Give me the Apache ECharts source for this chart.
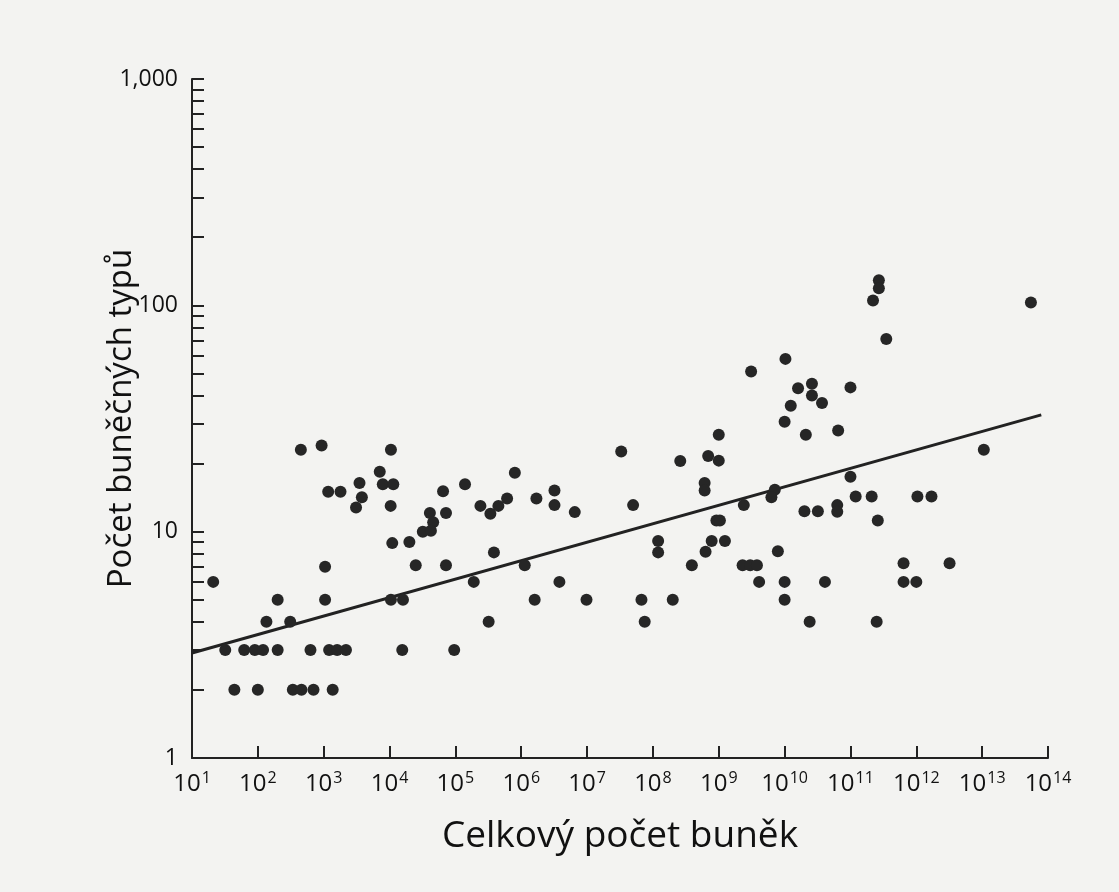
<!DOCTYPE html>
<html>
<head>
    <meta charset="utf-8">
    <title>Počet buněčných typů</title>
    <script src="https://cdn.jsdelivr.net/npm/echarts@6/dist/echarts.min.js"></script>
    <style>
        html, body { margin: 0; padding: 0; background: #f3f3f1; }
        #chart { width: 1119px; height: 892px; }
    </style>
</head>
<body>
    <div id="chart"></div>
    <script>
        // celkový počet buněk (x) a počet buněčných typů (y)
        var cellCount = [
            21, 32, 44, 62, 90, 120, 100, 135, 200, 200,
            310, 340, 460, 700, 630, 450, 930, 1050, 1050, 1370,
            1210, 1600, 2180, 1170, 1800, 1.05e4, 7.1e3, 7.9e3, 1.14e4, 3.5e3,
            3.8e3, 3.1e3, 1.04e4, 1.1e4, 2.0e4, 2.5e4, 1.05e4, 1.6e4, 1.56e4, 9.6e4,
            6.5e4, 1.4e5, 4.1e4, 7.2e4, 4.6e4, 3.2e4, 4.25e4, 7.2e4, 1.9e5, 3.2e5,
            2.4e5, 3.4e5, 4.5e5, 6.1e5, 8.0e5, 3.85e5, 1.7e6, 3.2e6, 3.2e6, 6.5e6,
            3.3e7, 5.0e7, 2.6e8, 6.9e8, 1.0e9, 1.0e9, 6.1e8, 6.1e8, 2.4e9, 7.1e9,
            6.3e9, 1.0e10, 2.1e10, 2.0e10, 3.2e10, 1.13e6, 3.8e6, 1.6e6, 9.8e6, 6.7e7,
            7.5e7, 2.0e8, 1.2e8, 1.2e8, 3.9e8, 6.3e8, 7.8e8, 1.24e9, 9.2e8, 1.04e9,
            2.3e9, 3.0e9, 3.8e9, 4.1e9, 7.9e9, 1.0e10, 1.0e10, 2.4e10, 4.1e10, 2.7e11,
            2.7e11, 2.2e11, 5.5e13, 3.5e11, 1.03e10, 1.6e10, 2.6e10, 2.6e10, 3.7e10, 1.0e11,
            1.24e10, 6.5e10, 1.06e13, 1.0e11, 1.2e11, 2.1e11, 1.04e12, 1.7e12, 6.3e10, 6.3e10,
            2.6e11, 2.5e11, 6.4e11, 6.4e11, 1.0e12, 3.2e12, 3.1e9
        ];
        var cellTypes = [
            6, 3, 2, 3, 3, 3, 2, 4, 3, 5,
            4, 2, 2, 2, 3, 23, 24, 7, 5, 2,
            3, 3, 3, 15, 15, 23, 18.4, 16.2, 16.2, 16.4,
            14.2, 12.8, 13, 8.9, 9, 7.1, 5, 5, 3, 3,
            15.1, 16.2, 12.1, 12.1, 11, 10, 10.1, 7.1, 6, 4,
            13, 12, 13, 14, 18.2, 8.1, 14, 15.2, 13.1, 12.2,
            22.6, 13.1, 20.5, 21.6, 20.6, 26.8, 16.4, 15.2, 13.1, 15.3,
            14.2, 30.6, 26.8, 12.3, 12.3, 7.1, 6, 5, 5, 5,
            4, 5, 9.1, 8.1, 7.1, 8.15, 9.1, 9.1, 11.2, 11.2,
            7.1, 7.1, 7.1, 6, 8.2, 6, 5, 4, 6, 129,
            119, 105, 103, 71, 58, 43, 45, 40, 37, 43.4,
            36, 28, 23, 17.5, 14.3, 14.3, 14.3, 14.3, 13.1, 12.25,
            11.2, 4, 7.26, 6, 6, 7.26, 51
        ];
        // regresní přímka
        var trendX = [10, 7.9e13];
        var trendY = [2.91, 32.8];

        var yLabels = [1, 10, 100, 1000];
        var yTicks = [];
        [1, 10, 100].forEach(function (d) {
            for (var k = 1; k < 10; k++) yTicks.push(d * k);
        });
        yTicks.push(1000);

        var points = cellCount.map(function (x, i) { return [x, cellTypes[i]]; });
        var trend = trendX.map(function (x, i) { return [x, trendY[i]]; });

        var font = '"Open Sans", "Noto Sans", sans-serif';
        var ink = '#222';

        var myChart = echarts.init(document.getElementById('chart'));
        myChart.setOption({
            backgroundColor: '#f3f3f1',
            animation: false,
            grid: { left: 192, right: 71, top: 79, bottom: 134, containLabel: false },
            xAxis: {
                type: 'log',
                logBase: 10,
                min: 10,
                max: 1e14,
                interval: 1,
                name: 'Celkový počet buněk',
                nameLocation: 'middle',
                nameGap: 60,
                nameMoveOverlap: false,
                nameTextStyle: { fontFamily: font, fontSize: 37, color: '#111' },
                axisLine: { show: true, lineStyle: { color: ink, width: 2 } },
                axisTick: { show: true, inside: true, length: 12, lineStyle: { color: ink, width: 2 } },
                splitLine: { show: false },
                axisLabel: {
                    margin: 12,
                    fontFamily: font,
                    fontSize: 24,
                    color: '#111',
                    formatter: function (v) {
                        var e = Math.round(Math.log10(v));
                        return '10{sup|' + e + '}';
                    },
                    rich: {
                        sup: { fontFamily: font, fontSize: 16, color: '#111', verticalAlign: 'top', padding: [0, 0, 12, 1] }
                    }
                }
            },
            yAxis: {
                type: 'log',
                logBase: 10,
                min: 1,
                max: 1000,
                name: 'Počet buněčných typů',
                nameLocation: 'middle',
                nameGap: 54,
                nameMoveOverlap: false,
                nameTextStyle: { fontFamily: font, fontSize: 33, color: '#111' },
                axisLine: { show: true, lineStyle: { color: ink, width: 2 } },
                axisTick: { show: true, inside: true, length: 12, customValues: yTicks, lineStyle: { color: ink, width: 2 } },
                splitLine: { show: false },
                axisLabel: {
                    margin: 14,
                    customValues: yLabels,
                    fontFamily: font,
                    fontSize: 23,
                    color: '#111',
                    formatter: function (v) {
                        return v >= 1000 ? '1,000' : String(Math.round(v));
                    }
                }
            },
            series: [
                {
                    name: 'buňky',
                    type: 'scatter',
                    symbol: 'circle',
                    symbolSize: 12,
                    itemStyle: { color: '#262626', opacity: 1 },
                    data: points,
                    z: 3
                },
                {
                    name: 'trend',
                    type: 'line',
                    data: trend,
                    showSymbol: false,
                    lineStyle: { color: '#222', width: 3 },
                    z: 2
                }
            ]
        });
    </script>
</body>
</html>
